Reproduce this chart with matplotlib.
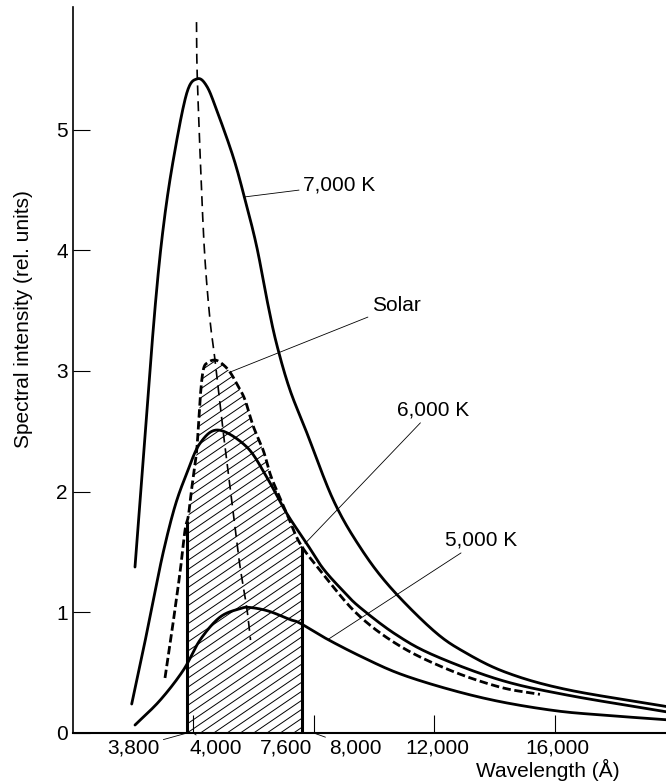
import numpy as np
import matplotlib.pyplot as plt
from matplotlib.patches import Polygon

plt.rcParams['font.family'] = ['Liberation Sans', 'DejaVu Sans']

# blackbody curves (wavelength in Angstrom, relative intensity)
wl_7000 = [2072, 2400, 2736, 3011, 3343, 3787, 4138, 4450, 4782, 5332, 5720, 6108, 6480, 6771,
           7200, 7766, 8648, 9534, 10528, 11964, 13000, 14398, 16388, 19680]
in_7000 = [1.375, 2.45, 3.52, 4.19, 4.75, 5.30, 5.42, 5.36, 5.16, 4.77, 4.42, 4.03, 3.55, 3.22,
           2.85, 2.49, 1.93, 1.54, 1.21, 0.85, 0.67, 0.50, 0.36, 0.22]

wl_6000 = [1963, 2348, 2680, 3011, 3399, 3787, 4228, 4836, 5777, 6440, 7103, 7766, 8317, 9000,
           9534, 10700, 11964, 14176, 16388, 19680]
in_6000 = [0.24, 0.69, 1.10, 1.50, 1.88, 2.15, 2.40, 2.51, 2.37, 2.12, 1.82, 1.57, 1.36, 1.17,
           1.04, 0.82, 0.646, 0.44, 0.315, 0.176]

wl_5000 = [2072, 2900, 3674, 4228, 4891, 5554, 5886, 6500, 7213, 7544, 8429, 9600, 10860, 12518,
           14176, 16000, 17492, 19680]
in_5000 = [0.066, 0.27, 0.52, 0.77, 0.96, 1.03, 1.04, 1.01, 0.94, 0.91, 0.78, 0.63, 0.49, 0.36,
           0.26, 0.185, 0.15, 0.11]

# measured solar spectrum
wl_sun = [3067, 3289, 3565, 3731, 3842, 3950, 4118, 4228, 4338, 4494, 4725, 4957, 5223, 5498,
          5720, 5996, 6327, 6549, 6771, 7103, 7544, 8207, 9424, 10860, 12518, 14176, 15500]
in_sun = [0.456, 0.83, 1.33, 1.68, 1.80, 2.02, 2.34, 2.76, 3.01, 3.07, 3.09, 3.06, 2.99, 2.87,
          2.76, 2.54, 2.34, 2.15, 2.01, 1.82, 1.57, 1.35, 0.99, 0.72, 0.52, 0.38, 0.32]

# locus of the maxima
wl_peak = [4112, 4138, 4284, 4394, 4560, 4725, 5000, 5223, 5389, 5554, 5777, 5903]
in_peak = [5.89, 5.43, 4.47, 3.92, 3.42, 3.09, 2.49, 2.04, 1.71, 1.38, 1.04, 0.77]

visible = (3800, 7600)
xticks = [4000, 8000, 12000, 16000]
yticks = [0, 1, 2, 3, 4, 5]

# curve labels: text, text anchor, point on the curve
curve_labels = [
    ("7,000 K", (7650, 4.54), (5664, 4.44)),
    ("Solar", (9930, 3.54), (5223, 2.99)),
    ("6,000 K", (10760, 2.68), (7710, 1.57)),
    ("5,000 K", (12350, 1.60), (8472, 0.775)),
]

# labels under the x axis: value, text offset in pixels, leader line
axis_marks = [
    (3800, "3,800", (-54, -15), True),
    (4000, "4,000", (23, -15), True),
    (7600, "7,600", (-16, -15), False),
    (8000, "8,000", (42, -15), True),
    (12000, "12,000", (3, -15), False),
    (16000, "16,000", (2, -15), False),
]


def smooth(x, y, n=24):
    """Catmull-Rom curve through the given points, for drawing only."""
    p = np.column_stack([x, y]).astype(float)
    p = np.vstack([2 * p[0] - p[1], p, 2 * p[-1] - p[-2]])
    t = np.linspace(0, 1, n, endpoint=False)[:, None]
    out = []
    for i in range(1, len(p) - 2):
        p0, p1, p2, p3 = p[i - 1], p[i], p[i + 1], p[i + 2]
        out.append(0.5 * (2 * p1 + (p2 - p0) * t + (2 * p0 - 5 * p1 + 4 * p2 - p3) * t ** 2
                          + (3 * p1 - p0 - 3 * p2 + p3) * t ** 3))
    out.append(p[-2][None, :])
    out = np.vstack(out)
    return out[:, 0], out[:, 1]


fig = plt.figure(figsize=(6.66, 7.83), dpi=100)
ax = fig.add_axes([72.5 / 666, 50 / 783, 593.5 / 666, 726 / 783])
ax.set_xlim(0, 19680)
ax.set_ylim(0, 6.015)

for wl, val in [(wl_7000, in_7000), (wl_6000, in_6000), (wl_5000, in_5000)]:
    ax.plot(*smooth(wl, val), color='black', lw=2.0, solid_capstyle='round')
sx, sy = smooth(wl_sun, in_sun)
ax.plot(sx, sy, color='black', lw=2.0, linestyle=(0, (3, 1.3)))
ax.plot(*smooth(wl_peak, in_peak), color='black', lw=1.2, linestyle=(0, (6, 3.5)))

# hatched band of the visible range under the solar curve
band_x = np.linspace(visible[0], visible[1], 200)
band_y = np.interp(band_x, sx, sy)
verts = [(visible[0], 0)] + list(zip(band_x, band_y)) + [(visible[1], 0)]
band = Polygon(verts, closed=True, facecolor='none', edgecolor='none')
ax.add_patch(band)
k = 0.68 * (593.5 / 19680) / (726 / 6.015)
for c in np.arange(-0.9, 3.2, 0.075):
    hx = np.array([visible[0], visible[1]])
    ln, = ax.plot(hx, c + k * (hx - visible[0]), color='black', lw=0.7)
    ln.set_clip_path(band)
ax.vlines(visible, 0, np.interp(visible, sx, sy), color='black', lw=2.2)

for text, txy, cxy in curve_labels:
    ax.annotate(text, xy=cxy, xytext=txy, ha='left', va='center', fontsize=15,
                arrowprops=dict(arrowstyle='-', lw=0.6, color='black',
                                shrinkA=1, shrinkB=0))

for val, text, off, leader in axis_marks:
    props = dict(arrowstyle='-', lw=0.6, color='black', shrinkA=1, shrinkB=0) if leader else None
    ax.annotate(text, xy=(val, 0), xytext=off, textcoords='offset pixels',
                ha='center', va='center', fontsize=15, arrowprops=props,
                annotation_clip=False)

ax.set_xticks(xticks)
ax.set_xticklabels([])
ax.set_yticks(yticks)
ax.set_yticklabels([str(v) for v in yticks], fontsize=15)
ax.tick_params(axis='x', direction='in', length=13, width=0.8)
ax.tick_params(axis='y', direction='in', length=12, width=0.8, pad=3.5)
for side in ['top', 'right']:
    ax.spines[side].set_visible(False)
ax.spines['left'].set_linewidth(1.2)
ax.spines['bottom'].set_linewidth(1.5)

fig.text(24 / 666, 1 - 319 / 783, "Spectral intensity (rel. units)", rotation=90,
         ha='center', va='center', fontsize=15)
fig.text(547.5 / 666, 1 - 770 / 783, "Wavelength (Å)", ha='center', va='center', fontsize=15)

fig.savefig("out.png", dpi=100)
